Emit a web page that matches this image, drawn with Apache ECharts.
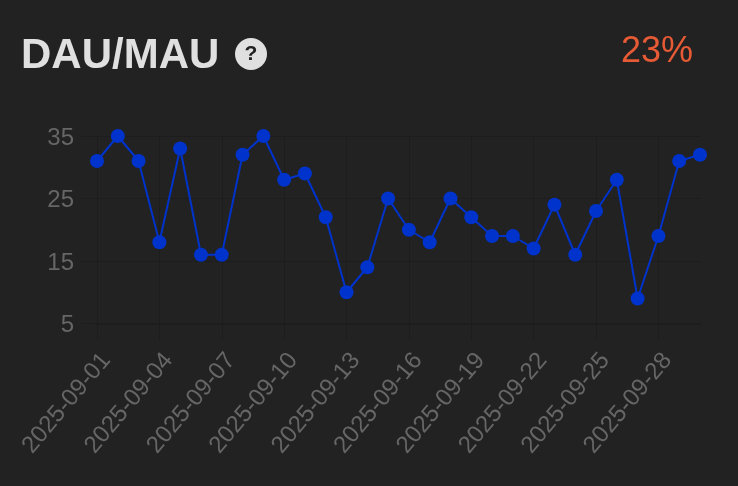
<!DOCTYPE html>
<html>
<head>
<meta charset="utf-8">
<style>
  html, body { margin: 0; padding: 0; background: #222222; }
  #myChart { width: 738px; height: 486px; }
</style>
<script src="https://cdn.jsdelivr.net/npm/echarts@6/dist/echarts.min.js"></script>
</head>
<body>
<div id="myChart"></div>
<script>
const titleText = 'DAU/MAU';
const summaryText = '23%';
const days = [
  '2025-09-01', '2025-09-02', '2025-09-03', '2025-09-04', '2025-09-05', '2025-09-06',
  '2025-09-07', '2025-09-08', '2025-09-09', '2025-09-10', '2025-09-11', '2025-09-12',
  '2025-09-13', '2025-09-14', '2025-09-15', '2025-09-16', '2025-09-17', '2025-09-18',
  '2025-09-19', '2025-09-20', '2025-09-21', '2025-09-22', '2025-09-23', '2025-09-24',
  '2025-09-25', '2025-09-26', '2025-09-27', '2025-09-28', '2025-09-29', '2025-09-30'
];
const ratio = [
  31, 35, 31, 18, 33, 16, 16, 32, 35, 28, 29, 22, 10, 14, 25,
  20, 18, 25, 22, 19, 19, 17, 24, 16, 23, 28, 9, 19, 31, 32
];
const yTicks = [5, 15, 25, 35];

const fontName = '"Liberation Sans", Arial, sans-serif';
const gridColor = '#1d1d1d';
const labelColor = '#666666';

const thisChart = echarts.init(document.getElementById('myChart'));
thisChart.setOption({
  backgroundColor: '#222222',
  animation: false,
  title: [
    { text: titleText, left: 16, top: 30, textStyle: { color: '#e0e0e0', fontSize: 42, fontWeight: 'bold', fontFamily: fontName } },
    { text: summaryText, right: 40, top: 29, textStyle: { color: '#e65a35', fontSize: 36, fontWeight: 'normal', fontFamily: fontName } }
  ],
  // 标题旁边的问号图标
  graphic: [
    { type: 'circle', shape: { cx: 251, cy: 54, r: 16 }, style: { fill: '#e0e0e0' } },
    { type: 'text', style: { x: 251, y: 54, text: '?', fill: '#222222', font: 'bold 21px ' + fontName, align: 'center', verticalAlign: 'middle' } }
  ],
  grid: { left: 97, right: 38, top: 136, bottom: 162.5, containLabel: false },
  xAxis: {
    type: 'category',
    data: days,
    boundaryGap: false,
    axisLine: { show: true, lineStyle: { color: gridColor, width: 2 } },
    axisTick: { show: true, length: 16, interval: 2, lineStyle: { color: gridColor } },
    splitLine: { show: true, interval: 2, lineStyle: { color: gridColor } },
    axisLabel: { interval: 2, rotate: 50, margin: 25, verticalAlign: 'top', color: labelColor, fontSize: 24, fontFamily: fontName, hideOverlap: false }
  },
  yAxis: {
    type: 'value',
    min: 5,
    max: 35,
    axisLine: { show: true, lineStyle: { color: gridColor } },
    axisTick: { show: true, length: 16, customValues: yTicks, lineStyle: { color: gridColor } },
    splitLine: { show: true, lineStyle: { color: gridColor } },
    axisLabel: {
      customValues: yTicks,
      margin: 23,
      formatter: '{v|{value}}',
      rich: { v: { color: labelColor, fontSize: 24, fontFamily: fontName, padding: [4, 0, 0, 0] } }
    }
  },
  series: [
    {
      name: titleText,
      type: 'line',
      data: ratio,
      symbol: 'circle',
      symbolSize: 14,
      showAllSymbol: true,
      lineStyle: { color: '#0033cc', width: 2 },
      itemStyle: { color: '#0033cc' }
    }
  ]
});
</script>
</body>
</html>
